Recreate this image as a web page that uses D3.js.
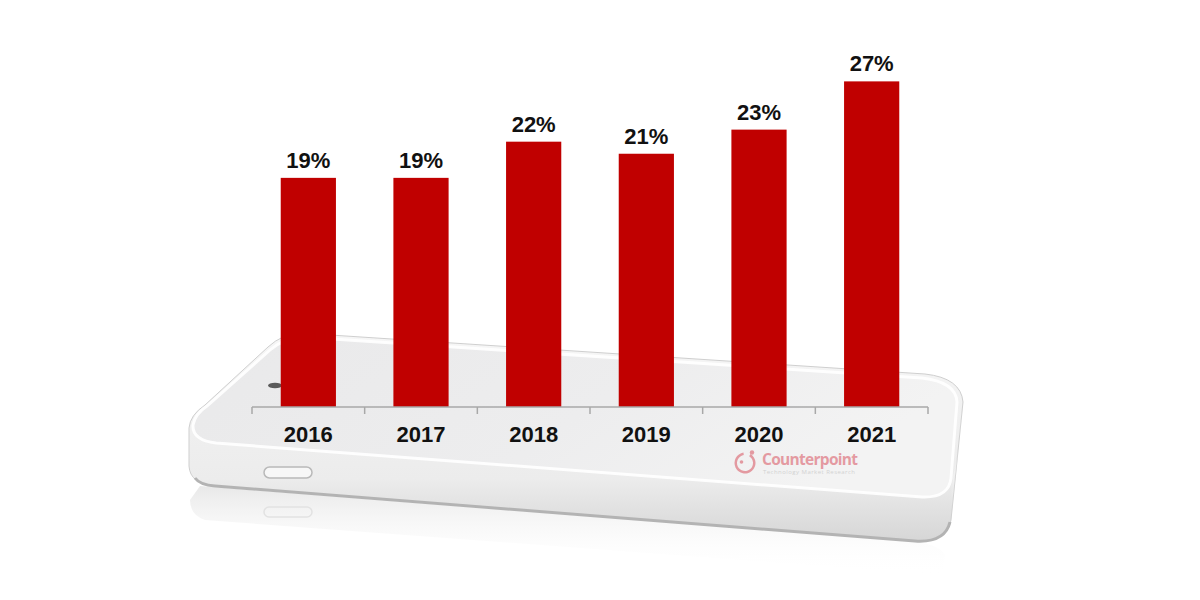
<!DOCTYPE html>
<html>
<head>
<meta charset="utf-8">
<script src="https://cdn.jsdelivr.net/npm/d3@7"></script>
<style>
  html, body { margin: 0; padding: 0; background: #ffffff; }
  svg { display: block; }
</style>
</head>
<body>
<svg id="chart" width="1200" height="600"></svg>
<script>
const years = ["2016", "2017", "2018", "2019", "2020", "2021"];
const values = [19, 19, 22, 21, 23, 27];
const valueLabels = ["19%", "19%", "22%", "21%", "23%", "27%"];

const svg = d3.select("#chart");
const defs = svg.append("defs");

// gradients for phone
const gSide = defs.append("linearGradient").attr("id", "gSide").attr("x1", 0).attr("y1", 0).attr("x2", 0).attr("y2", 1);
gSide.append("stop").attr("offset", "0%").attr("stop-color", "#f6f6f6");
gSide.append("stop").attr("offset", "70%").attr("stop-color", "#ececec");
gSide.append("stop").attr("offset", "100%").attr("stop-color", "#d6d6d6");

const gFace = defs.append("linearGradient").attr("id", "gFace").attr("x1", 0).attr("y1", 0).attr("x2", 1).attr("y2", 0.3);
gFace.append("stop").attr("offset", "0%").attr("stop-color", "#e9e9ea");
gFace.append("stop").attr("offset", "60%").attr("stop-color", "#ededee");
gFace.append("stop").attr("offset", "100%").attr("stop-color", "#f3f3f3");

const gRefl = defs.append("linearGradient").attr("id", "gRefl").attr("x1", 0).attr("y1", 0).attr("x2", 0).attr("y2", 1);
gRefl.append("stop").attr("offset", "0%").attr("stop-color", "#e6e6e6").attr("stop-opacity", 0.9);
gRefl.append("stop").attr("offset", "100%").attr("stop-color", "#ffffff").attr("stop-opacity", 0);

const gRight = defs.append("linearGradient").attr("id", "gRight").attr("x1", 0).attr("y1", 0).attr("x2", 1).attr("y2", 0);
gRight.append("stop").attr("offset", "0%").attr("stop-color", "#ffffff").attr("stop-opacity", 0);
gRight.append("stop").attr("offset", "100%").attr("stop-color", "#ffffff").attr("stop-opacity", 0.9);

// ---- phone illustration ----
const phone = svg.append("g");

// reflection
phone.append("path")
  .attr("d", "M 200,486 L 915,542 Q 940,545 945,555 L 942,575 L 205,520 Q 190,515 190,500 Z")
  .attr("fill", "url(#gRefl)");
phone.append("rect")
  .attr("x", 264).attr("y", 507).attr("width", 48).attr("height", 10).attr("rx", 5)
  .attr("fill", "none").attr("stroke", "#e2e2e2").attr("stroke-width", 1.5);

// body (with side thickness)
phone.append("path")
  .attr("d", "M 300,333 L 925,374 Q 961,378 963,402 L 951,520 Q 947,543 915,541 L 215,486 Q 190,484 189,466 L 189,428 Q 190,415 205,405 L 268,347 Q 282,334 300,333 Z")
  .attr("fill", "url(#gSide)")
  .attr("stroke", "#cfcfcf").attr("stroke-width", 1);

// bottom dark rim
phone.append("path")
  .attr("d", "M 195,478 Q 200,485 215,486 L 915,541 Q 945,543 950,522")
  .attr("fill", "none").attr("stroke", "#b3b3b3").attr("stroke-width", 3);

// top face
phone.append("path")
  .attr("d", "M 302,337 L 922,378 Q 956,382 957,402 L 951,478 Q 949,498 922,497 L 216,443 Q 192,440 193,425 Q 195,414 207,406 L 270,350 Q 284,338 302,337 Z")
  .attr("fill", "url(#gFace)")
  .attr("stroke", "#ffffff").attr("stroke-width", 3).attr("stroke-opacity", 0.9);

// right side highlight
phone.append("path")
  .attr("d", "M 951,480 Q 957,470 960,430 L 963,402 L 951,520 Z")
  .attr("fill", "url(#gRight)");

// camera
phone.append("ellipse")
  .attr("cx", 275).attr("cy", 385.5).attr("rx", 7).attr("ry", 2.8)
  .attr("fill", "#5a5a5a");

// home button
phone.append("rect")
  .attr("x", 264).attr("y", 467).attr("width", 48).attr("height", 11).attr("rx", 5.5)
  .attr("fill", "#f7f7f7").attr("stroke", "#b9b9b9").attr("stroke-width", 1.5);

// ---- chart ----
const x = d3.scaleBand().domain(years).range([252, 928]).paddingInner(0.51).paddingOuter(0.255);
const y = d3.scaleLinear().domain([0, 30]).range([407, 407 - 30 * 12.06]);

const chart = svg.append("g");

chart.selectAll("rect.bar")
  .data(years)
  .join("rect")
  .attr("class", "bar")
  .attr("x", d => x(d))
  .attr("width", x.bandwidth())
  .attr("y", (d, i) => y(values[i]))
  .attr("height", (d, i) => y(0) - y(values[i]))
  .attr("fill", "#c00000");

// axis
const halfGap = (x.step() - x.bandwidth()) / 2;
const tickPos = years.map(d => x(d) - halfGap).concat([x.range()[1]]);
chart.append("line")
  .attr("x1", x.range()[0]).attr("x2", x.range()[1])
  .attr("y1", y(0)).attr("y2", y(0))
  .attr("stroke", "#a8a8a8").attr("stroke-width", 1.5);
chart.selectAll("line.tick")
  .data(tickPos)
  .join("line")
  .attr("class", "tick")
  .attr("x1", d => d).attr("x2", d => d)
  .attr("y1", y(0)).attr("y2", y(0) + 7)
  .attr("stroke", "#a8a8a8").attr("stroke-width", 1.5);

const font = "'Liberation Sans', Arial, Helvetica, sans-serif";

chart.selectAll("text.year")
  .data(years)
  .join("text")
  .attr("class", "year")
  .attr("x", d => x(d) + x.bandwidth() / 2)
  .attr("y", 442)
  .attr("text-anchor", "middle")
  .attr("font-family", font)
  .attr("font-weight", "bold")
  .attr("font-size", 22)
  .attr("fill", "#111111")
  .text(d => d);

chart.selectAll("text.val")
  .data(years)
  .join("text")
  .attr("class", "val")
  .attr("x", d => x(d) + x.bandwidth() / 2)
  .attr("y", (d, i) => y(values[i]) - 10)
  .attr("text-anchor", "middle")
  .attr("font-family", font)
  .attr("font-weight", "bold")
  .attr("font-size", 22)
  .attr("fill", "#111111")
  .text((d, i) => valueLabels[i]);

// ---- watermark logo ----
const logo = svg.append("g").attr("opacity", 0.55);
const arc = d3.arc().innerRadius(8).outerRadius(10.5).startAngle(0.55).endAngle(2 * Math.PI - 0.15);
logo.append("path").attr("d", arc()).attr("transform", "translate(745,463)").attr("fill", "#d9535f");
logo.append("circle").attr("cx", 752).attr("cy", 452.5).attr("r", 2.2).attr("fill", "#d9535f");
logo.append("circle").attr("cx", 741.5).attr("cy", 462).attr("r", 1.8).attr("fill", "#d9535f");
logo.append("text")
  .attr("x", 762).attr("y", 465)
  .attr("font-family", "'Open Sans', 'DejaVu Sans', sans-serif")
  .attr("font-weight", "bold")
  .attr("font-size", 15.5)
  .attr("fill", "#d9535f")
  .attr("textLength", 96)
  .text("Counterpoint");
logo.append("text")
  .attr("x", 763).attr("y", 474)
  .attr("font-family", "'Open Sans', 'DejaVu Sans', sans-serif")
  .attr("font-size", 6)
  .attr("fill", "#b8b8b8")
  .attr("textLength", 92)
  .text("Technology Market Research");
</script>
</body>
</html>
